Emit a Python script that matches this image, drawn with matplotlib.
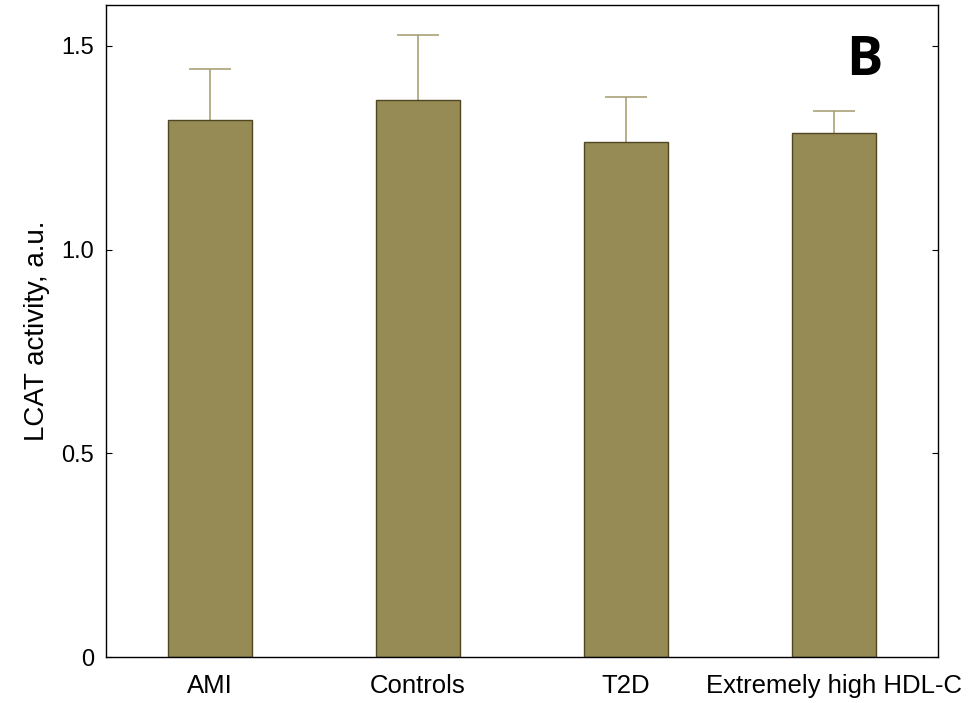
import matplotlib
matplotlib.use("Agg")
import matplotlib.pyplot as plt
import numpy as np

plt.rcParams['font.family'] = ['Liberation Sans', 'DejaVu Sans']

groups = ["AMI", "Controls", "T2D", "Extremely high HDL-C"]
means = [1.319, 1.366, 1.263, 1.287]
upper_err = [0.123, 0.160, 0.110, 0.054]

bar_color = "#968b54"
edge_color = "#4f4722"
err_color = "#a39a6c"

fig = plt.figure(figsize=(9.78, 7.03), dpi=100)
ax = fig.add_axes([0.1084, 0.0654, 0.8507, 0.9275])

x = np.arange(len(groups))
means_a = np.array(means)
tops = means_a + np.array(upper_err)
ax.bar(x, means, width=0.404, color=bar_color, edgecolor=edge_color, linewidth=1.0, zorder=2)
# upper-only error bars with caps
ax.vlines(x, means_a, tops, color=err_color, linewidth=1.1, zorder=1)
ax.hlines(tops, x - 0.103, x + 0.103, color=err_color, linewidth=1.1, zorder=1)

ax.set_xlim(-0.5, 3.5)
ax.set_ylim(0, 1.6)
ax.set_yticks([0, 0.5, 1.0, 1.5])
ax.set_yticklabels(["0", "0.5", "1.0", "1.5"])
ax.set_xticks(x)
ax.set_xticklabels(groups)
ax.tick_params(axis='x', length=0, labelsize=18.5, pad=12)
ax.tick_params(axis='y', direction='in', length=4, labelsize=17, right=True, pad=8.5)
for s in ax.spines.values():
    s.set_linewidth(1.0)

ax.set_ylabel("LCAT activity, a.u.", fontsize=20, labelpad=8)
ax.text(0.911, 0.955, "B", transform=ax.transAxes, fontsize=39, fontweight='bold',
        family=['Open Sans', 'DejaVu Sans'], ha='center', va='top')

fig.savefig("out.png", dpi=100)
